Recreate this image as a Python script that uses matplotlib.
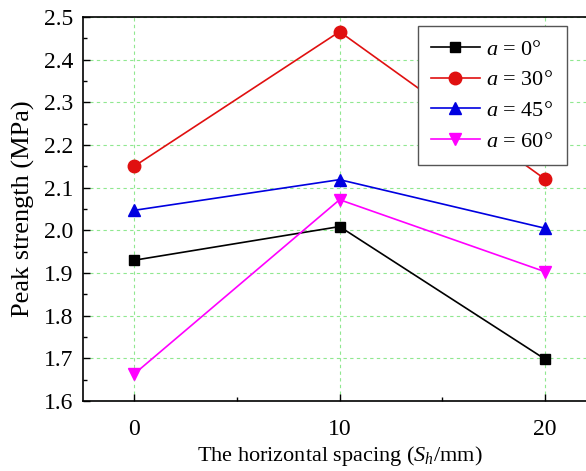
import numpy as np
import matplotlib
matplotlib.use('Agg')
import matplotlib.pyplot as plt
from matplotlib.ticker import MultipleLocator

plt.rcParams['font.family'] = ['Liberation Serif', 'DejaVu Serif']
plt.rcParams['mathtext.fontset'] = 'custom'
plt.rcParams['mathtext.rm'] = 'Liberation Serif'
plt.rcParams['mathtext.it'] = 'Liberation Serif:italic'

# data
spacing = [0, 10, 20]
a0 = [1.93, 2.009, 1.698]
a30 = [2.15, 2.466, 2.12]
a45 = [2.047, 2.119, 2.005]
a60 = [1.663, 2.072, 1.903]
labels = [r'$a$ = 0°', r'$a$ = 30°', r'$a$ = 45°', r'$a$ = 60°']

fig = plt.figure(figsize=(5.86, 4.71), dpi=100)
ax = fig.add_axes([0.141, 0.1486, 0.877, 0.815])

ax.grid(True, color='#90e890', linestyle=(0, (3, 3)), linewidth=0.8)
ax.set_axisbelow(True)

ax.plot(spacing, a0, color='black', marker='s', markersize=7.5, linewidth=1.2, label=labels[0])
ax.plot(spacing, a30, color='#e01010', marker='o', markersize=9, linewidth=1.2, label=labels[1])
ax.plot(spacing, a45, color='#0000e0', marker='^', markersize=9, linewidth=1.2, label=labels[2])
ax.plot(spacing, a60, color='#ff00ff', marker='v', markersize=9, linewidth=1.2, label=labels[3])

ax.set_xlim(-2.5, 22.5)
ax.set_ylim(1.6, 2.5)
ax.set_xticks([0, 10, 20])
ax.xaxis.set_minor_locator(MultipleLocator(5))
ax.yaxis.set_major_locator(MultipleLocator(0.1))
ax.yaxis.set_minor_locator(MultipleLocator(0.05))
ax.yaxis.set_major_formatter(matplotlib.ticker.FormatStrFormatter('%.1f'))
ax.tick_params(which='both', direction='in', labelsize=17)
ax.tick_params(which='major', length=5, width=1)
ax.tick_params(which='minor', length=3, width=1)
ax.tick_params(axis='y', which='major', pad=7)
ax.tick_params(axis='x', which='major', pad=13)
for s in ax.spines.values():
    s.set_linewidth(1.2)

ax.set_xlabel(r'The horizontal spacing ($S_h$/mm)', fontsize=16, labelpad=3)
ax.set_ylabel('Peak strength (MPa)', fontsize=19, labelpad=6)

leg = ax.legend(loc='upper right', bbox_to_anchor=(0.942, 0.977), fontsize=16,
                fancybox=False, edgecolor='#555555', framealpha=1,
                handlelength=2.2, handletextpad=0.3, borderpad=0.6, labelspacing=0.45,
                borderaxespad=0)
leg.get_frame().set_linewidth(1.0)

fig.savefig('out.png', dpi=100)
